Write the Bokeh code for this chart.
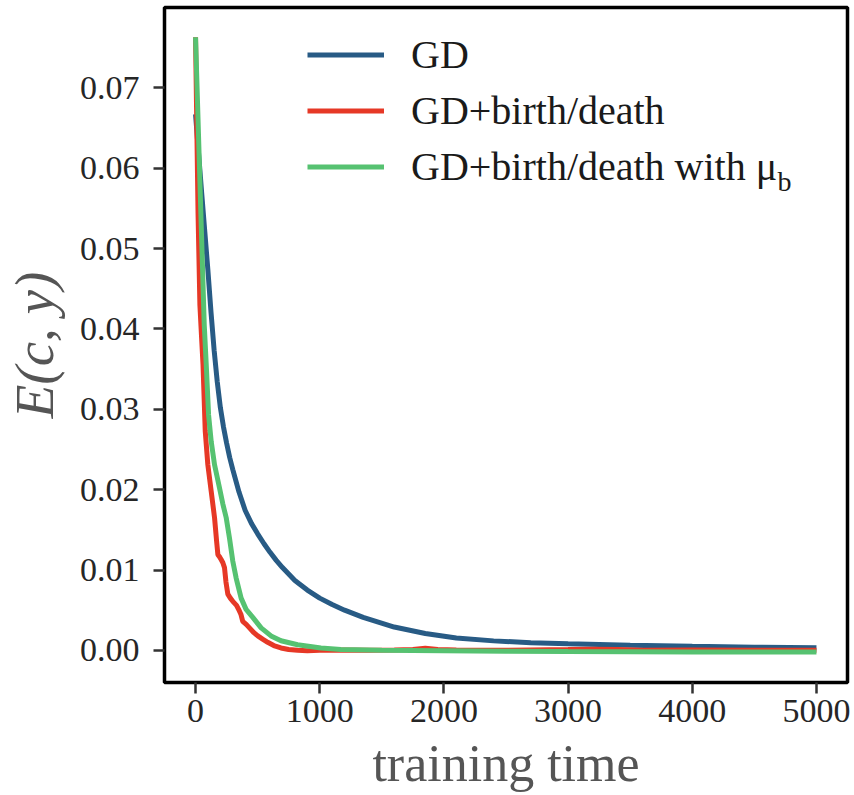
from bokeh.plotting import figure
from bokeh.models import Range1d, Legend, LegendItem, FixedTicker, Label
from bokeh.embed import file_html
from bokeh.resources import INLINE

# ---- data ----
gd_t = [0, 25, 50, 75, 100, 125, 150, 175, 200, 225, 250, 275, 300, 350, 400,
        450, 500, 550, 600, 650, 700, 800, 900, 1000, 1100, 1200, 1350, 1600,
        1850, 2100, 2400, 2700, 3000, 3500, 4000, 4500, 5000]
gd_e = [0.0667, 0.0617, 0.0568, 0.0520, 0.0472, 0.0420, 0.0373, 0.0334, 0.0302,
        0.0278, 0.0258, 0.0240, 0.0225, 0.0197, 0.0174, 0.0158, 0.0145, 0.0133,
        0.0122, 0.0112, 0.0103, 0.0087, 0.0075, 0.0065, 0.0057, 0.0050, 0.0041,
        0.0029, 0.0021, 0.00155, 0.00118, 0.00096, 0.00082, 0.00064, 0.0005,
        0.0004, 0.00032]

bd_t = [0, 20, 35, 50, 60, 78, 99, 126, 153, 170, 180, 195, 206, 220, 233, 245,
        260, 280, 300, 330, 353, 365, 380, 410, 434, 470, 501, 540, 581, 630,
        688, 750, 822, 900, 1000, 1200, 1400, 1600, 1750, 1850, 1950, 2100,
        2400, 2700, 3000, 3200, 3400, 3600, 4000, 4500, 5000]
bd_e = [0.0763, 0.0545, 0.0430, 0.0385, 0.0356, 0.0273, 0.0231, 0.0198, 0.0165,
        0.0135, 0.0119, 0.0116, 0.0113, 0.0109, 0.0103, 0.0085, 0.0070, 0.0065,
        0.0061, 0.0056, 0.0049, 0.0045, 0.0036, 0.0032, 0.0028, 0.0022, 0.0018,
        0.0014, 0.0010, 0.0006, 0.0003, 0.0001, 0.0000, -0.00005, 0.0000,
        0.00005, 0.0000, 0.00005, 0.0001, 0.00025, 0.0001, 0.00005, 0.0,
        0.00005, 0.0001, 0.00015, 0.0001, 0.0, 0.00005, 0.0, 0.0]

mu_t = [0, 70, 86, 105, 126, 153, 193, 220, 247, 273, 300, 327, 367, 407, 461,
        528, 608, 688, 822, 1010, 1170, 1500, 2000, 2500, 3000, 4000, 5000]
mu_e = [0.0763, 0.0405, 0.0356, 0.0293, 0.0260, 0.0231, 0.0202, 0.0182, 0.0165,
        0.0140, 0.0111, 0.0090, 0.0065, 0.0051, 0.0041, 0.0028, 0.0018, 0.0012,
        0.0007, 0.0003, 0.0001, 0.0, -0.00005, -0.0001, -0.00015, -0.0002,
        -0.0002]

series_names = ["GD", "GD+birth/death", "GD+birth/death with μ"]
series_colors = ["#285b85", "#e63826", "#56c271"]

x_ticks = [0, 1000, 2000, 3000, 4000, 5000]
y_ticks = [0.00, 0.01, 0.02, 0.03, 0.04, 0.05, 0.06, 0.07]
y_tick_labels = ["0.00", "0.01", "0.02", "0.03", "0.04", "0.05", "0.06", "0.07"]

FONT = "Liberation Serif"

p = figure(width=851, height=795,
           x_range=Range1d(-250, 5250), y_range=Range1d(-0.0040, 0.0800),
           output_backend="svg", toolbar_location=None,
           min_border_left=164, min_border_right=4,
           min_border_top=7, min_border_bottom=113)

p.grid.visible = False
p.outline_line_color = "black"
p.outline_line_width = 3.5
p.outline_line_alpha = 1.0
p.background_fill_color = "white"
p.border_fill_color = "white"

for ax in (p.xaxis[0], p.yaxis[0]):
    ax.axis_line_color = None
    ax.minor_tick_line_color = None
    ax.major_tick_in = 0
    ax.major_tick_out = 11
    ax.major_tick_line_width = 2.5
    ax.major_tick_line_color = "#333333"
    ax.major_label_text_font = FONT
    ax.major_label_text_font_size = "34px"
    ax.major_label_text_color = "#262626"
    ax.axis_label_text_font = FONT
    ax.axis_label_text_color = "#555555"

p.xaxis.ticker = FixedTicker(ticks=x_ticks)
p.xaxis.major_label_standoff = 6
p.xaxis.axis_label = "training time"
p.xaxis.axis_label_standoff = 10
p.xaxis.axis_label_text_font_size = "52px"
p.xaxis.axis_label_text_font_style = "normal"

p.yaxis.ticker = FixedTicker(ticks=y_ticks)
p.yaxis.major_label_overrides = {t: s for t, s in zip(y_ticks, y_tick_labels)}
p.yaxis.major_label_standoff = 14
p.yaxis.axis_label = "E(c, y)"
p.yaxis.axis_label_standoff = 12
p.yaxis.axis_label_text_font_size = "55px"
p.yaxis.axis_label_text_font_style = "italic"

r_gd = p.line(gd_t, gd_e, line_color=series_colors[0], line_width=5)
r_bd = p.line(bd_t, bd_e, line_color=series_colors[1], line_width=5)
r_mu = p.line(mu_t, mu_e, line_color=series_colors[2], line_width=5)

legend = Legend(items=[LegendItem(label=series_names[0], renderers=[r_gd]),
                       LegendItem(label=series_names[1], renderers=[r_bd]),
                       LegendItem(label=series_names[2], renderers=[r_mu])],
                location=(143, 492))
legend.border_line_color = None
legend.background_fill_alpha = 0
legend.padding = 0
legend.margin = 0
legend.spacing = 9
legend.glyph_width = 77
legend.glyph_height = 45
legend.label_height = 45
legend.label_standoff = 27
legend.label_text_font = FONT
legend.label_text_font_size = "40px"
legend.label_text_color = "#1a1a1a"
p.add_layout(legend, "center")

sub_b = Label(x=613, y=501, x_units="screen", y_units="screen", text="b",
              text_font=FONT, text_font_size="28px", text_color="#1a1a1a",
              text_baseline="alphabetic")
p.add_layout(sub_b)

open("out.html", "w").write(file_html(p, INLINE))
